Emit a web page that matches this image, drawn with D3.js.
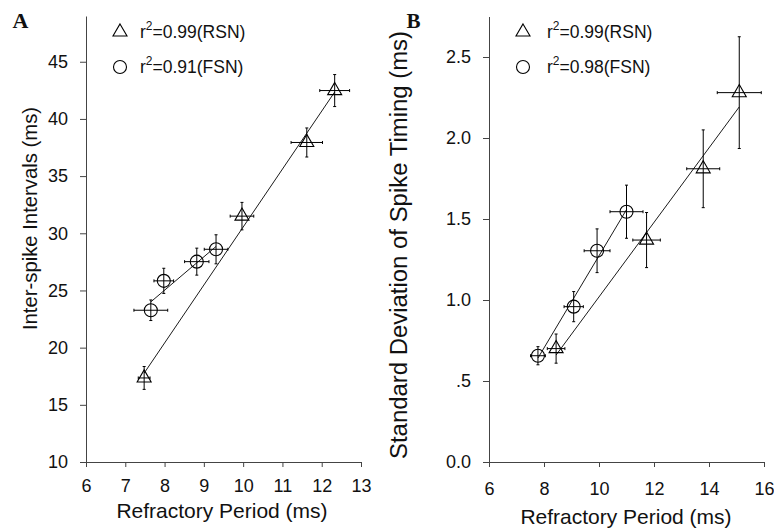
<!DOCTYPE html>
<html>
<head>
<meta charset="utf-8">
<script src="https://cdn.jsdelivr.net/npm/d3@7"></script>
<style>
body { margin: 0; background: #fff; }
text { font-family: "Liberation Sans", Arial, sans-serif; fill: #111; }
</style>
</head>
<body>
<script>
// panel A - inter-spike intervals against refractory period
var rsnA_x  = [7.48, 9.97, 11.62, 12.33];
var rsnA_y  = [17.35, 31.5, 37.94, 42.48];
var rsnA_xe = [0.15, 0.3, 0.4, 0.38];
var rsnA_ye = [1.0, 1.2, 1.27, 1.4];
var fsnA_x  = [7.65, 7.98, 8.82, 9.31];
var fsnA_y  = [23.27, 25.84, 27.52, 28.6];
var fsnA_xe = [0.43, 0.25, 0.31, 0.3];
var fsnA_ye = [0.9, 1.1, 1.18, 1.27];

// panel B - SD of spike timing against refractory period
var rsnB_x  = [8.44, 11.73, 13.79, 15.1];
var rsnB_y  = [0.70, 1.37, 1.81, 2.28];
var rsnB_xe = [0.32, 0.5, 0.6, 0.8];
var rsnB_ye = [0.09, 0.17, 0.24, 0.345];
var fsnB_x  = [7.78, 9.08, 9.93, 11.0];
var fsnB_y  = [0.656, 0.959, 1.304, 1.545];
var fsnB_xe = [0.27, 0.35, 0.47, 0.6];
var fsnB_ye = [0.056, 0.093, 0.135, 0.164];

var ticksAx = [6, 7, 8, 9, 10, 11, 12, 13];
var ticksAy = [10, 15, 20, 25, 30, 35, 40, 45];
var ticksBx = [6, 8, 10, 12, 14, 16];
var ticksBy = [0, 0.5, 1, 1.5, 2, 2.5];
var labelsBy = ["0.0", ".5", "1.0", "1.5", "2.0", "2.5"];
var legendA = ["=0.99(RSN)", "=0.91(FSN)"];
var legendB = ["=0.99(RSN)", "=0.98(FSN)"];

var svg = d3.select('body').append('svg').attr('width', 774).attr('height', 529);

function zip(xs, ys, xe, ye) {
	return xs.map(function(v, i) { return {x: v, y: ys[i], xe: xe[i], ye: ye[i]}; });
}

// least squares line over the range of the points
function fit(pts) {
	var mx = d3.mean(pts, function(d){ return d.x; });
	var my = d3.mean(pts, function(d){ return d.y; });
	var sxy = d3.sum(pts, function(d){ return (d.x - mx) * (d.y - my); });
	var sxx = d3.sum(pts, function(d){ return (d.x - mx) * (d.x - mx); });
	var b = sxy / sxx, a = my - b * mx;
	var x0 = d3.min(pts, function(d){ return d.x; }), x1 = d3.max(pts, function(d){ return d.x; });
	return [{x: x0, y: a + b * x0}, {x: x1, y: a + b * x1}];
}

var tri = d3.symbol().type(d3.symbolTriangle).size(85);

function drawMarker(g, shape, px, py) {
	if (shape == 'tri') {
		g.append('path').attr('d', tri()).attr('transform', 'translate(' + px + ',' + py + ')')
			.attr('fill', 'none').attr('stroke', '#000').attr('stroke-width', 1.1);
	} else {
		g.append('circle').attr('cx', px).attr('cy', py).attr('r', 6.5)
			.attr('fill', 'none').attr('stroke', '#000').attr('stroke-width', 1.1);
	}
}

function series(g, x, y, pts, shape) {
	var line = d3.line().x(function(d){ return x(d.x); }).y(function(d){ return y(d.y); });
	g.append('path').attr('d', line(fit(pts))).attr('fill', 'none').attr('stroke', '#000').attr('stroke-width', 0.9);

	pts.forEach(function(d) {
		var cx = x(d.x), cy = y(d.y);
		var x0 = x(d.x - d.xe), x1 = x(d.x + d.xe);
		var y0 = y(d.y - d.ye), y1 = y(d.y + d.ye);
		var e = g.append('g').attr('stroke', '#000').attr('stroke-width', 1);
		e.append('line').attr('x1', x0).attr('x2', x1).attr('y1', cy).attr('y2', cy);
		e.append('line').attr('x1', cx).attr('x2', cx).attr('y1', y0).attr('y2', y1);
		e.append('line').attr('x1', x0).attr('x2', x0).attr('y1', cy - 1.5).attr('y2', cy + 1.5);
		e.append('line').attr('x1', x1).attr('x2', x1).attr('y1', cy - 1.5).attr('y2', cy + 1.5);
		e.append('line').attr('x1', cx - 1.5).attr('x2', cx + 1.5).attr('y1', y0).attr('y2', y0);
		e.append('line').attr('x1', cx - 1.5).attr('x2', cx + 1.5).attr('y1', y1).attr('y2', y1);
		drawMarker(g, shape, cx, cy);
	});
}

function legend(g, lx, tx, labels) {
	var rows = [{shape: 'tri', y: 32, base: 37.5}, {shape: 'circ', y: 67, base: 72.5}];
	rows.forEach(function(r, i) {
		drawMarker(g, r.shape, lx, r.y);
		var t = g.append('text').attr('x', tx).attr('y', r.base).style('font-size', '17.5px');
		t.append('tspan').text('r');
		t.append('tspan').attr('dy', -8).style('font-size', '12px').text('2');
		t.append('tspan').attr('dy', 8).text(labels[i]);
	});
}

function styleAxis(a) {
	a.selectAll('path, line').attr('stroke', '#444');
	a.selectAll('text').style('font-size', '18px').attr('fill', '#111');
}

function main() {
	// ---- panel A
	var xA = d3.scaleLinear().domain([6, 13]).range([86, 361]);
	var yA = d3.scaleLinear().domain([10, 49]).range([462, 16]);
	var gA = svg.append('g');

	var axA = gA.append('g').attr('transform', 'translate(0,462)')
		.call(d3.axisBottom(xA).tickValues(ticksAx).tickSize(5).tickPadding(12).tickSizeOuter(0)
			.tickFormat(d3.format('d')));
	var ayA = gA.append('g').attr('transform', 'translate(86,0)')
		.call(d3.axisLeft(yA).tickValues(ticksAy).tickSize(6).tickPadding(12).tickSizeOuter(0)
			.tickFormat(d3.format('d')));
	styleAxis(axA); styleAxis(ayA);

	gA.append('text').attr('x', 222).attr('y', 518).attr('text-anchor', 'middle')
		.style('font-size', '21px').text('Refractory Period (ms)');
	gA.append('text').attr('transform', 'translate(37,218.5) rotate(-90)').attr('text-anchor', 'middle')
		.style('font-size', '20.3px').text('Inter-spike Intervals (ms)');
	gA.append('text').attr('x', 12.5).attr('y', 28.3)
		.style('font-family', '"Liberation Serif", "Times New Roman", serif').style('font-weight', 'bold')
		.style('font-size', '22px').text('A');

	series(gA, xA, yA, zip(rsnA_x, rsnA_y, rsnA_xe, rsnA_ye), 'tri');
	series(gA, xA, yA, zip(fsnA_x, fsnA_y, fsnA_xe, fsnA_ye), 'circ');
	legend(gA, 120, 140, legendA);

	// ---- panel B
	var xB = d3.scaleLinear().domain([6, 16]).range([489, 764]);
	var yB = d3.scaleLinear().domain([0, 2.75]).range([462, 16.5]);
	var gB = svg.append('g');

	var axB = gB.append('g').attr('transform', 'translate(0,462)')
		.call(d3.axisBottom(xB).tickValues(ticksBx).tickSize(5).tickPadding(15).tickSizeOuter(0)
			.tickFormat(d3.format('d')));
	var ayB = gB.append('g').attr('transform', 'translate(489,0)')
		.call(d3.axisLeft(yB).tickValues(ticksBy).tickSize(6).tickPadding(12).tickSizeOuter(0)
			.tickFormat(function(d, i){ return labelsBy[i]; }));
	styleAxis(axB); styleAxis(ayB);

	gB.append('text').attr('x', 626).attr('y', 524).attr('text-anchor', 'middle')
		.style('font-size', '21px').text('Refractory Period (ms)');
	gB.append('text').attr('transform', 'translate(407,245) rotate(-90)').attr('text-anchor', 'middle')
		.attr('textLength', 428).attr('lengthAdjust', 'spacingAndGlyphs')
		.style('font-size', '23.5px').text('Standard Deviation of Spike Timing (ms)');
	gB.append('text').attr('x', 406.5).attr('y', 28)
		.style('font-family', '"Liberation Serif", "Times New Roman", serif').style('font-weight', 'bold')
		.style('font-size', '21px').text('B');

	series(gB, xB, yB, zip(rsnB_x, rsnB_y, rsnB_xe, rsnB_ye), 'tri');
	series(gB, xB, yB, zip(fsnB_x, fsnB_y, fsnB_xe, fsnB_ye), 'circ');
	legend(gB, 523, 547, legendB);
}

main();
</script>
</body>
</html>
